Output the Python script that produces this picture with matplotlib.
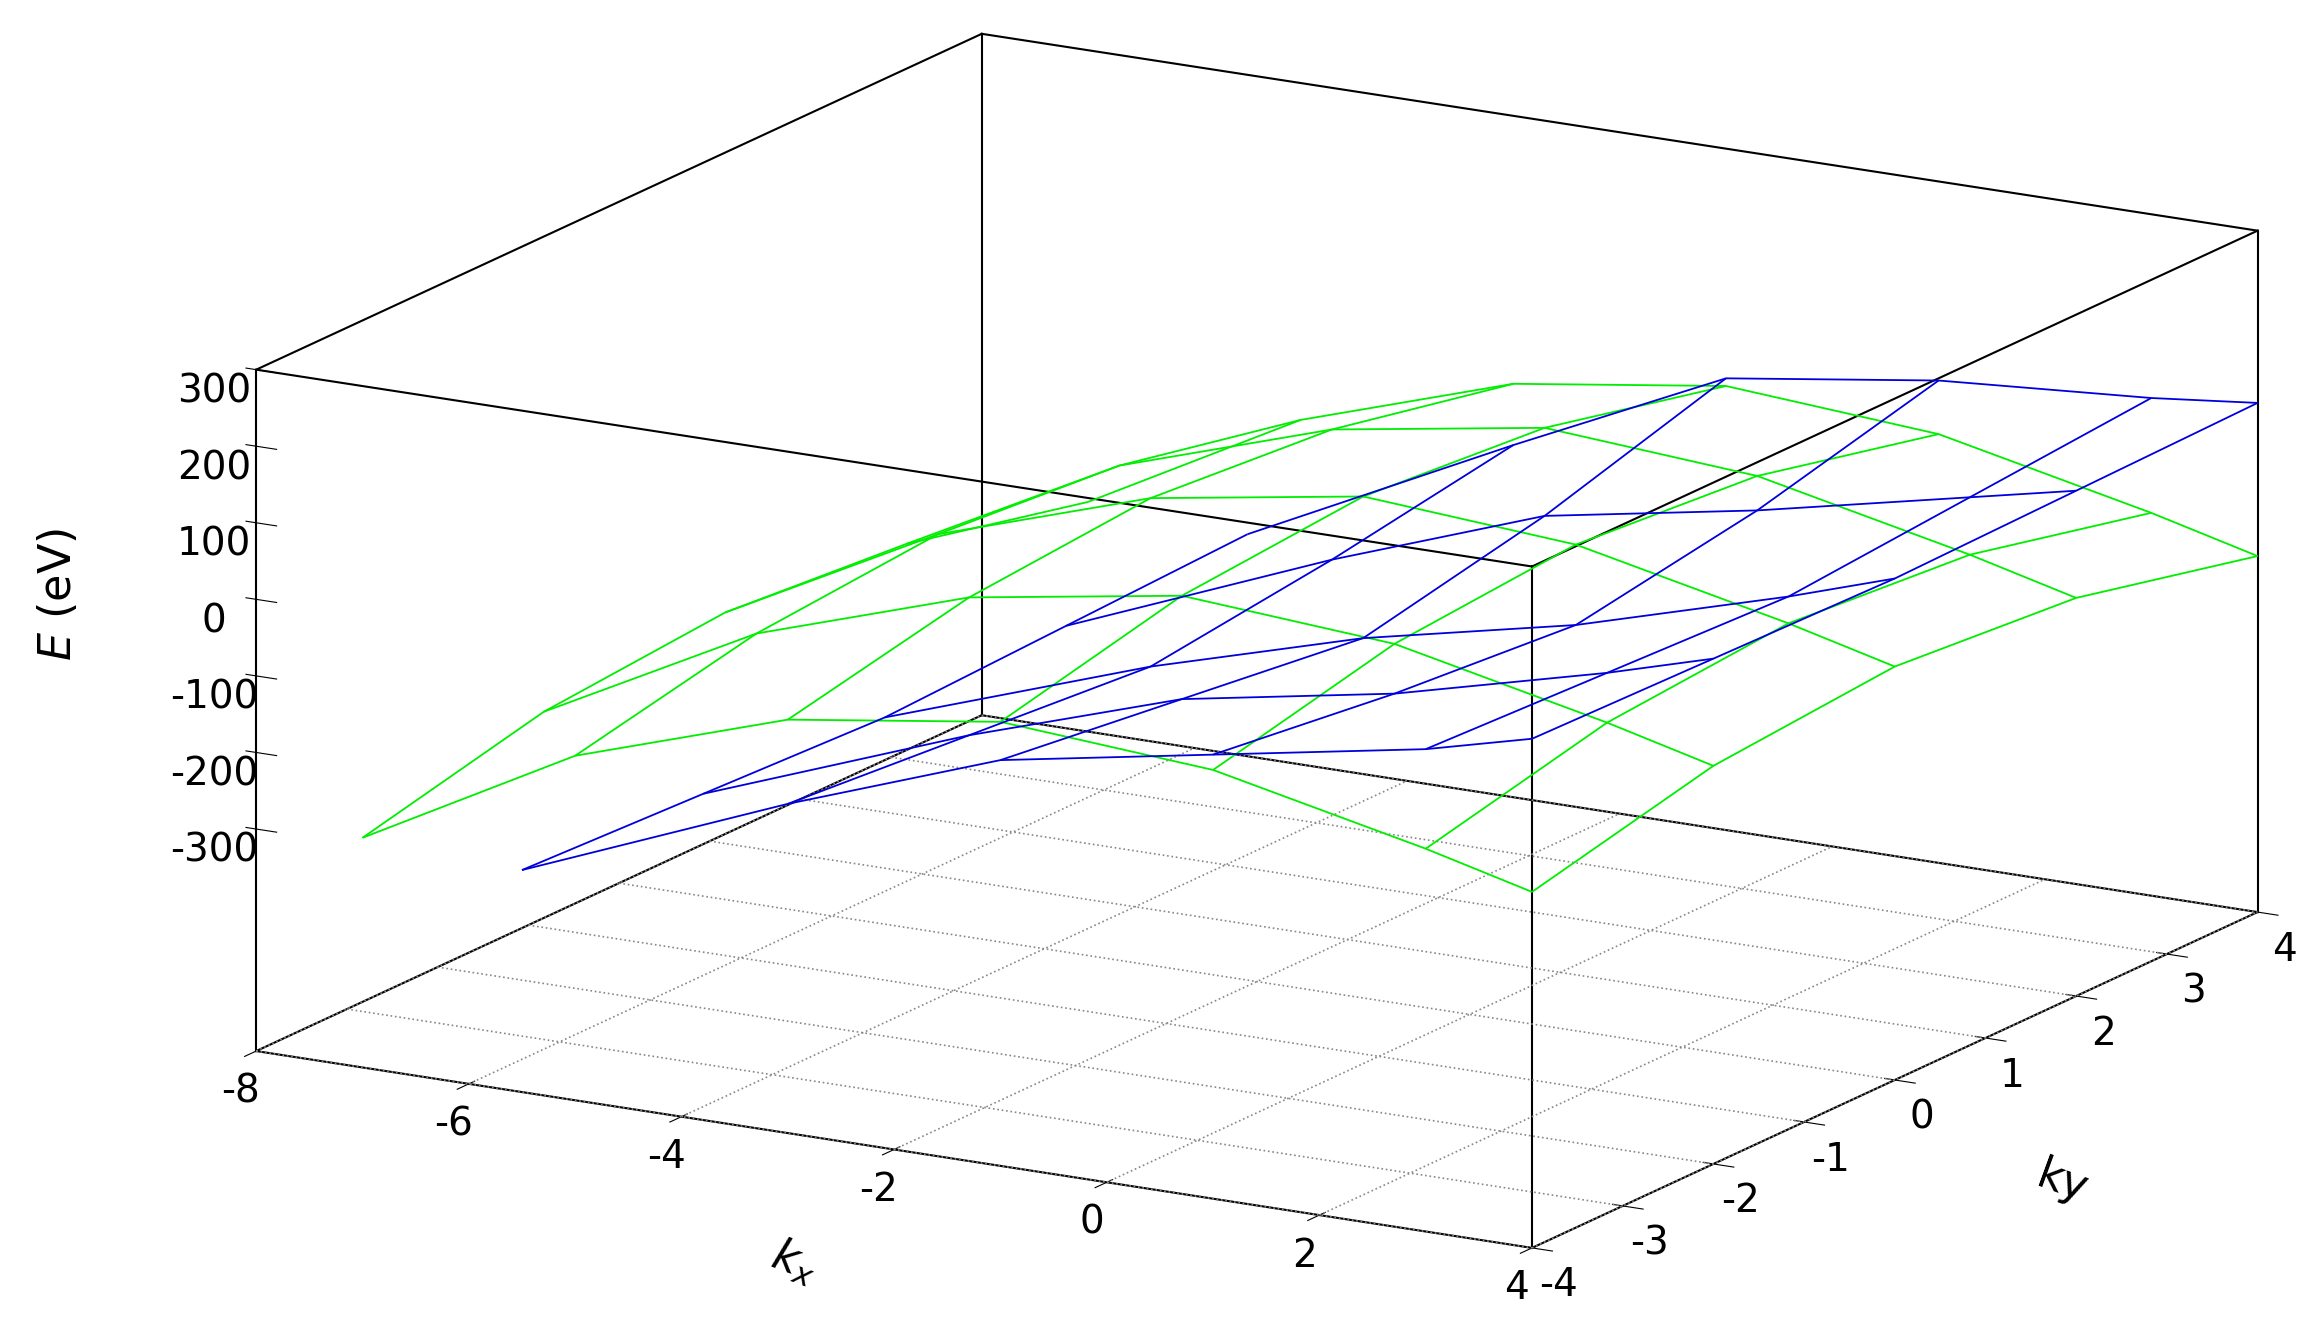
import numpy as np
import matplotlib.pyplot as plt

plt.rcParams["axes.unicode_minus"] = False

ky = [-4, -2, 0, 2, 4]

# rows: ky, columns: kx
green_kx = [-7, -5, -3, -1, 1, 3, 4]
green_E = [
    [-290, -140, -50, -10, -30, -90, -125],
    [-235, -90, 0, 45, 25, -35, -70],
    [-215, -70, 20, 65, 45, -15, -50],
    [-235, -90, 0, 45, 25, -35, -70],
    [-290, -140, -50, -10, -30, -90, -125],
]
blue_kx = [-5.5, -3, -1, 1, 3, 4]
blue_E = [
    [-300, -160, -60, -10, 40, 75],
    [-310, -180, -90, -40, 30, 70],
    [-320, -200, -120, -60, 20, 65],
    [-310, -170, -70, -20, 40, 70],
    [-300, -130, 0, 40, 60, 75],
]

x_ticks = [-8, -6, -4, -2, 0, 2, 4]
y_ticks = [-4, -3, -2, -1, 0, 1, 2, 3, 4]
z_ticks = [-300, -200, -100, 0, 100, 200, 300]
x0, x1, y0, y1, z0, z1 = -8, 4, -4, 4, -590, 300

fig = plt.figure(figsize=(23.04, 13.21), dpi=100)
ax = fig.add_axes([0.037, -0.05, 1.0, 1.1], projection="3d", proj_type="ortho")
GX, GY = np.meshgrid(green_kx, ky)
BX, BY = np.meshgrid(blue_kx, ky)
w1 = ax.plot_wireframe(GX, GY, np.array(green_E, float), color="#00ee00", linewidth=1.3)
w2 = ax.plot_wireframe(BX, BY, np.array(blue_E, float), color="#0000dd", linewidth=1.3)
w1.set_clip_on(False)
w2.set_clip_on(False)

# box edges
k = dict(color="black", linewidth=1.5, clip_on=False)
for xx in (x0, x1):
    for yy in (y0, y1):
        ax.plot([xx, xx], [yy, yy], [z0, z1], **k)
for zz in (z0, z1):
    ax.plot([x0, x1], [y0, y0], [zz, zz], **k)
    ax.plot([x0, x1], [y1, y1], [zz, zz], **k)
    ax.plot([x0, x0], [y0, y1], [zz, zz], **k)
    ax.plot([x1, x1], [y0, y1], [zz, zz], **k)
# dotted floor grid
g = dict(color="#888888", linestyle=":", linewidth=1.2, clip_on=False)
for xx in x_ticks:
    ax.plot([xx, xx], [y0, y1], [z0, z0], **g)
for yy in y_ticks:
    ax.plot([x0, x1], [yy, yy], [z0, z0], **g)

ax.set_xlim(x0, x1)
ax.set_ylim(y0, y1)
ax.set_zlim(z0, z1)
ax.set_xticks(x_ticks)
ax.set_yticks(y_ticks)
ax.set_zticks(z_ticks)
ax.grid(False)
ax.tick_params(labelsize=28)
ax.zaxis._axinfo["juggled"] = (1, 0, 2)
for a in (ax.xaxis, ax.yaxis, ax.zaxis):
    a.set_pane_color((1, 1, 1, 0))
    a.line.set_color((1, 1, 1, 0))
ax.set_box_aspect((1.0, 0.985, 0.48), zoom=1.46)
ax.view_init(elev=15.5, azim=-60)

fig.text(0.025, 0.55, "$E$ (eV)", fontsize=32, rotation=90, ha="center", va="center")
fig.text(0.345, 0.045, "$k_x$", fontsize=32, rotation=-20, ha="center", va="center")
fig.text(0.895, 0.105, "ky", fontsize=32, rotation=-20, ha="center", va="center")

fig.savefig("out.png", dpi=100)
